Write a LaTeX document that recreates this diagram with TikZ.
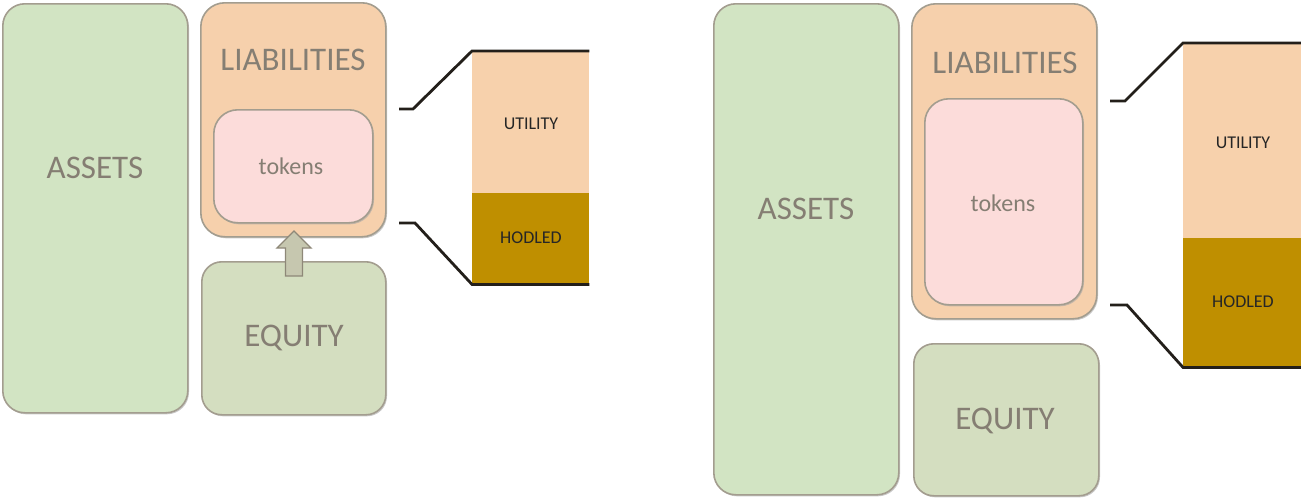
\documentclass[tikz,border=0pt]{standalone}
\usepackage{fontspec}
\setmainfont{Carlito}
\usetikzlibrary{shadows,calc}
\definecolor{assetG}{HTML}{D2E4C3}
\definecolor{liabO}{HTML}{F6D0AC}
\definecolor{tokP}{HTML}{FCDCDA}
\definecolor{eqG}{HTML}{D4DEC0}
\definecolor{bordG}{HTML}{A39D8F}
\definecolor{txtG}{HTML}{857E73}
\definecolor{hodlC}{HTML}{BF8F00}
\definecolor{utilO}{HTML}{F7D1AC}
\definecolor{lineK}{HTML}{231F1A}
\definecolor{arrF}{HTML}{C6C7AF}
\definecolor{arrD}{HTML}{8E8878}
\begin{document}
\begin{tikzpicture}[x=1pt,y=-1pt,
  panel/.style={draw=bordG, line width=1.6pt, anchor=north west, inner sep=0pt,
    drop shadow={shadow xshift=1.2pt, shadow yshift=-1.5pt, fill=black!35, opacity=0.6}},
  bigtext/.style={text=txtG, font=\fontsize{33}{33}\selectfont, inner sep=0pt},
  toktext/.style={text=txtG, font=\fontsize{24}{24}\selectfont, inner sep=0pt},
  bartext/.style={text=black!85, font=\fontsize{18}{18}\selectfont, inner sep=0pt},
  seg/.style={anchor=north west, inner sep=0pt, minimum width=117pt},
  zoomline/.style={draw=lineK, line width=2.8pt, line join=miter}
]
\useasboundingbox (0,0) rectangle (1301,498);

% ---------------- left panel ----------------
\node[panel, fill=assetG, rounded corners=22pt, minimum width=185pt, minimum height=409pt] (aL) at (2,3) {};
\node[bigtext] (aLt) at (95,168) {ASSETS};
\node[panel, fill=liabO, rounded corners=24pt, minimum width=185pt, minimum height=234pt] (lL) at (200,2) {};
\node[bigtext] (lLt) at (293,60) {LIABILITIES};
\node[panel, fill=tokP, rounded corners=24pt, minimum width=159pt, minimum height=113pt] (tL) at (213,109) {};
\node[toktext] (tLt) at (291,166) {tokens};
\node[panel, fill=eqG, rounded corners=20pt, minimum width=184pt, minimum height=153pt] (eL) at (201,261) {};
\node[bigtext] (eLt) at (294,338) {EQUITY};

% arrow from equity into liabilities
\coordinate (arB) at (294,276);
\coordinate (arT) at (294,231);
\filldraw[fill=arrF, draw=arrD, line width=1.3pt, line join=miter]
  ($(arB)+(-8.5,0)$) -- ($(arT)+(-8.5,17)$) -- ($(arT)+(-17,17)$) -- (arT)
  -- ($(arT)+(17,17)$) -- ($(arT)+(8.5,17)$) -- ($(arB)+(8.5,0)$) -- cycle;

% bar
\node[seg, fill=utilO, minimum height=142pt] (uL) at (472,51) {};
\node[seg, fill=hodlC, minimum height=91pt] (hL) at (472,193) {};
\node[bartext] (uLt) at (531,124) {UTILITY};
\node[bartext] (hLt) at (531,238) {HODLED};
\coordinate (c1L) at (399,109);
\coordinate (c2L) at (399,223);
\draw[zoomline] (c1L) -- ++(14,0) -- (uL.north west) -- (uL.north east);
\draw[zoomline] (c2L) -- ++(16,0) -- (hL.south west) -- (hL.south east);

% ---------------- right panel ----------------
\node[panel, fill=assetG, rounded corners=22pt, minimum width=185pt, minimum height=491pt] (aR) at (713,3) {};
\node[bigtext] (aRt) at (806,209) {ASSETS};
\node[panel, fill=liabO, rounded corners=24pt, minimum width=185pt, minimum height=315pt] (lR) at (911,3) {};
\node[bigtext] (lRt) at (1005,63) {LIABILITIES};
\node[panel, fill=tokP, rounded corners=24pt, minimum width=158pt, minimum height=206pt] (tR) at (924,98) {};
\node[toktext] (tRt) at (1003,203) {tokens};
\node[panel, fill=eqG, rounded corners=20pt, minimum width=185pt, minimum height=152pt] (eR) at (913,343) {};
\node[bigtext] (eRt) at (1005,421) {EQUITY};

\node[seg, fill=utilO, minimum width=118pt, minimum height=195pt] (uR) at (1183,43) {};
\node[seg, fill=hodlC, minimum width=118pt, minimum height=129pt] (hR) at (1183,238) {};
\node[bartext] (uRt) at (1243,143) {UTILITY};
\node[bartext] (hRt) at (1243,302) {HODLED};
\coordinate (c1R) at (1110,101);
\coordinate (c2R) at (1110,305);
\draw[zoomline] (c1R) -- ++(15,0) -- (uR.north west) -- (uR.north east);
\draw[zoomline] (c2R) -- ++(17,0) -- (hR.south west) -- (hR.south east);
\end{tikzpicture}
\end{document}
